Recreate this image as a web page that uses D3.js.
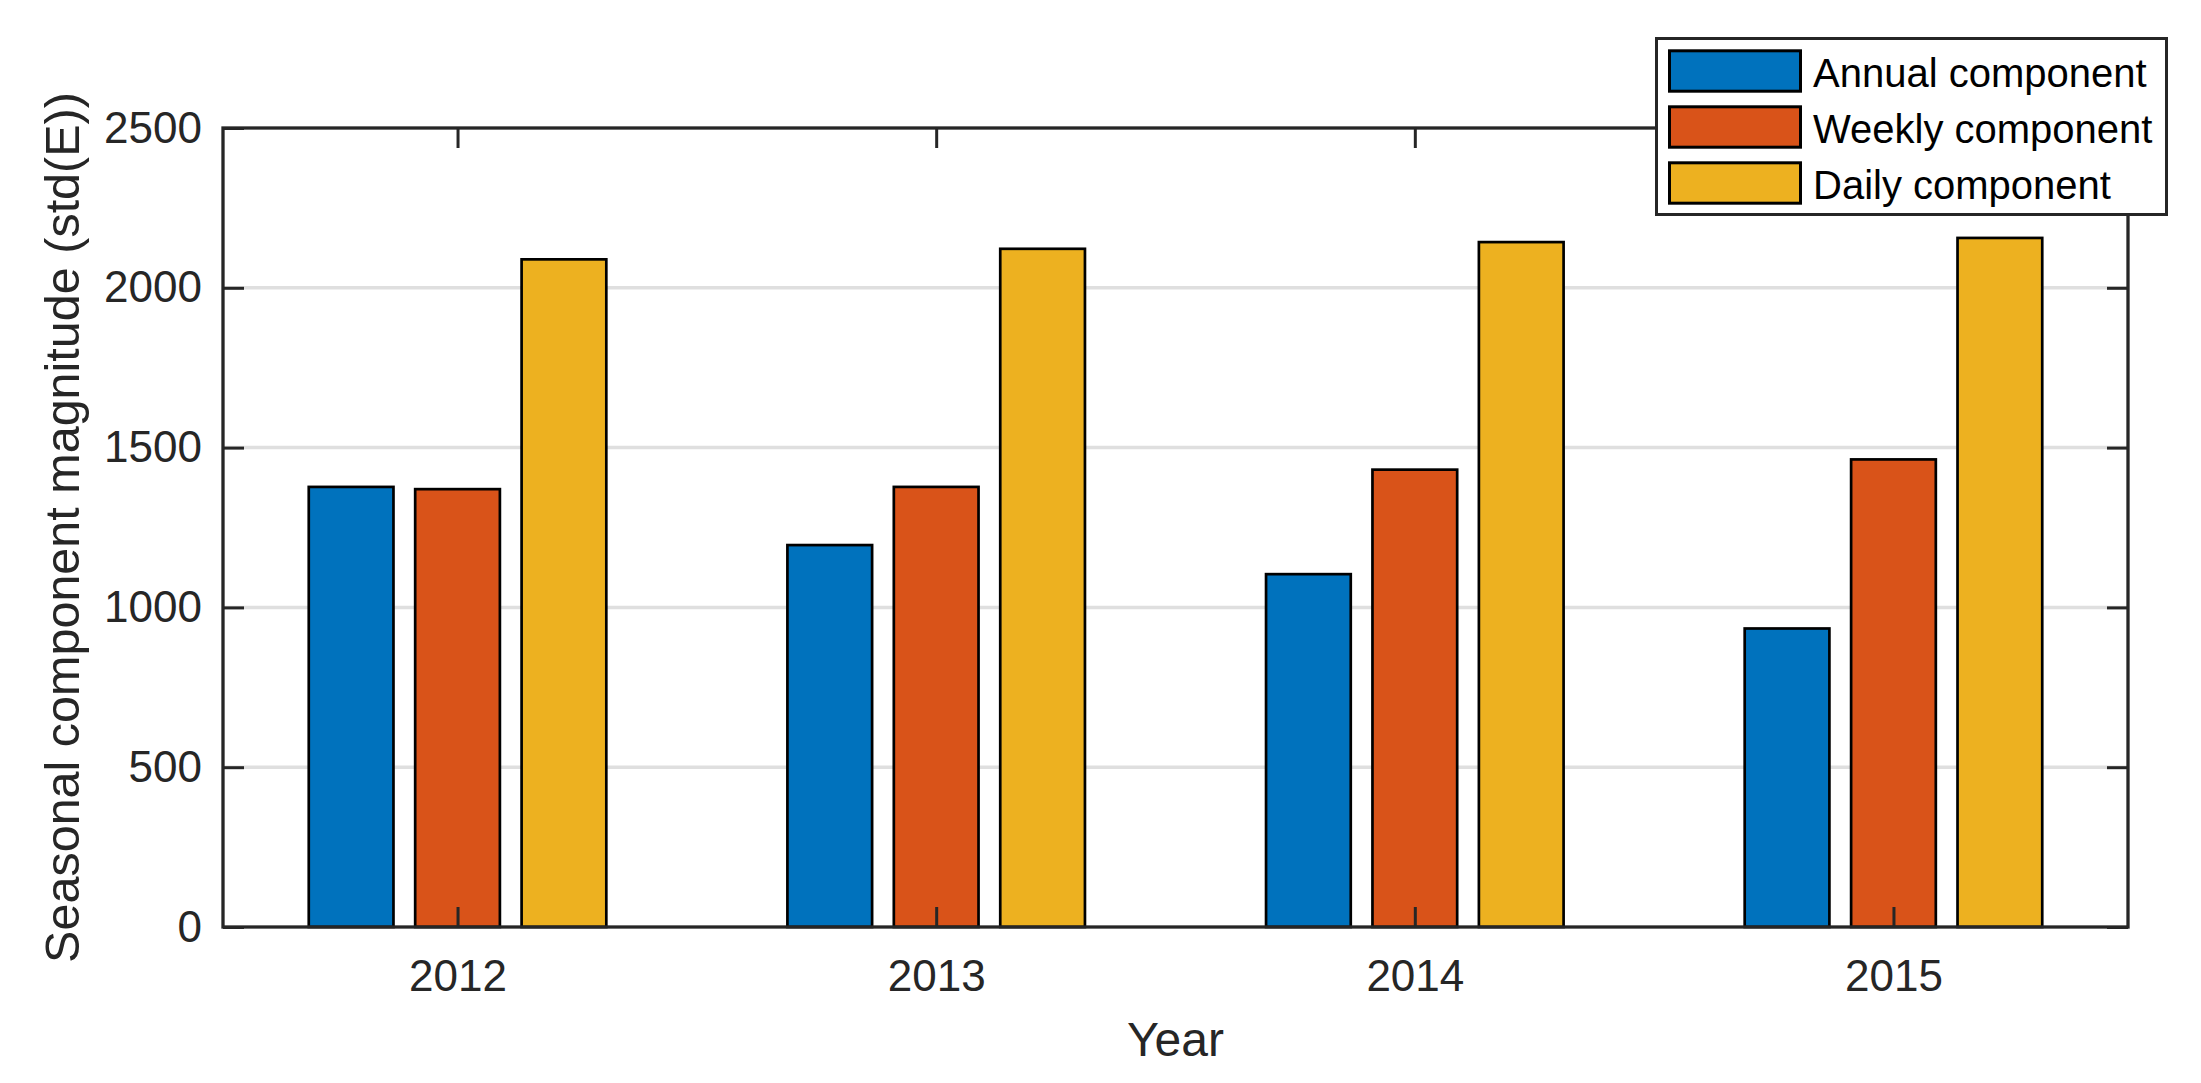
<!DOCTYPE html>
<html>
<head>
<meta charset="utf-8">
<script src="https://cdn.jsdelivr.net/npm/d3@7"></script>
<style>
  body { margin: 0; background: #fff; }
  text { font-family: "Liberation Sans", Arial, Helvetica, sans-serif; }
</style>
</head>
<body>
<div id="chart"></div>
<script>
// data
const years = ["2012", "2013", "2014", "2015"];
const seriesNames = ["Annual component", "Weekly component", "Daily component"];
const annual = [1377, 1195, 1104, 934];
const weekly = [1370, 1377, 1431, 1463];
const daily = [2089, 2122, 2143, 2156];
const yTicks = [0, 500, 1000, 1500, 2000, 2500];
const colors = ["#0072BD", "#D95319", "#EDB120"];

const W = 2201, H = 1083;
const plot = { left: 223, right: 2128, top: 128, bottom: 927 };
const axisColor = "#262626";

const svg = d3.select("#chart").append("svg")
    .attr("width", W)
    .attr("height", H);

svg.append("rect").attr("width", W).attr("height", H).attr("fill", "#fff");

// scales
const x = d3.scaleLinear()
    .domain([0.51, years.length + 0.49])
    .range([plot.left, plot.right]);

const unit = x(2) - x(1);
const xInner = d3.scaleBand()
    .domain(seriesNames)
    .range([-0.3335 * unit, 0.3335 * unit])
    .paddingInner(0.204)
    .paddingOuter(0.102);

const y = d3.scaleLinear()
    .domain([0, 2500])
    .range([plot.bottom, plot.top]);

// grid
svg.append("g")
    .selectAll("line")
    .data(yTicks.filter(t => t > 0 && t < 2500))
    .join("line")
    .attr("x1", plot.left)
    .attr("x2", plot.right)
    .attr("y1", d => y(d))
    .attr("y2", d => y(d))
    .attr("stroke", "#dfdfdf")
    .attr("stroke-width", 3.5);

// bars
const rows = years.map((yr, i) => ({ i: i + 1, values: [annual[i], weekly[i], daily[i]] }));

const groups = svg.append("g")
    .selectAll("g")
    .data(rows)
    .join("g")
    .attr("transform", d => `translate(${x(d.i)},0)`);

groups.selectAll("rect")
    .data(d => d.values.map((v, j) => ({ name: seriesNames[j], value: v, j: j })))
    .join("rect")
    .attr("x", d => xInner(d.name))
    .attr("width", xInner.bandwidth())
    .attr("y", d => y(d.value))
    .attr("height", d => y(0) - y(d.value))
    .attr("fill", d => colors[d.j])
    .attr("stroke", "#000")
    .attr("stroke-width", 2.7);

// axes
const tickFont = 44;

const yAxis = svg.append("g")
    .attr("transform", `translate(${plot.left},0)`)
    .call(d3.axisLeft(y).tickValues(yTicks).tickSize(-21).tickPadding(21).tickFormat(d3.format("d")));

const yAxisR = svg.append("g")
    .attr("transform", `translate(${plot.right},0)`)
    .call(d3.axisRight(y).tickValues(yTicks).tickSize(-21).tickFormat(""));

const xAxis = svg.append("g")
    .attr("transform", `translate(0,${plot.bottom})`)
    .call(d3.axisBottom(x).tickValues(d3.range(1, years.length + 1)).tickSize(-20).tickPadding(33)
        .tickFormat(d => years[d - 1]));

const xAxisT = svg.append("g")
    .attr("transform", `translate(0,${plot.top})`)
    .call(d3.axisTop(x).tickValues(d3.range(1, years.length + 1)).tickSize(-20).tickFormat(""));

[yAxis, yAxisR, xAxis, xAxisT].forEach(a => {
    a.select(".domain").remove();
    a.selectAll(".tick line").attr("stroke", axisColor).attr("stroke-width", 3);
    a.selectAll("text")
        .attr("fill", axisColor)
        .style("font-size", tickFont + "px");
});

// box
svg.append("rect")
    .attr("x", plot.left)
    .attr("y", plot.top)
    .attr("width", plot.right - plot.left)
    .attr("height", plot.bottom - plot.top)
    .attr("fill", "none")
    .attr("stroke", axisColor)
    .attr("stroke-width", 3.3);

// axis titles
svg.append("text")
    .attr("x", (plot.left + plot.right) / 2)
    .attr("y", 1056)
    .attr("text-anchor", "middle")
    .attr("fill", axisColor)
    .style("font-size", "48px")
    .text("Year");

svg.append("text")
    .attr("transform", `translate(79,${(plot.top + plot.bottom) / 2}) rotate(-90)`)
    .attr("text-anchor", "middle")
    .attr("fill", axisColor)
    .style("font-size", "48.5px")
    .text("Seasonal component magnitude (std(E))");

// legend
const legend = svg.append("g");
legend.append("rect")
    .attr("x", 1656.5)
    .attr("y", 38.5)
    .attr("width", 510)
    .attr("height", 176)
    .attr("fill", "#fff")
    .attr("stroke", axisColor)
    .attr("stroke-width", 3);

const items = legend.selectAll("g.item")
    .data(seriesNames)
    .join("g")
    .attr("class", "item")
    .attr("transform", (d, i) => `translate(0,${71 + i * 56})`);

items.append("rect")
    .attr("x", 1669.5)
    .attr("y", -20.2)
    .attr("width", 131)
    .attr("height", 40.4)
    .attr("fill", (d, i) => colors[i])
    .attr("stroke", "#000")
    .attr("stroke-width", 3);

items.append("text")
    .attr("x", 1813)
    .attr("y", 16)
    .attr("fill", "#000")
    .style("font-size", "40px")
    .text(d => d);
</script>
</body>
</html>
